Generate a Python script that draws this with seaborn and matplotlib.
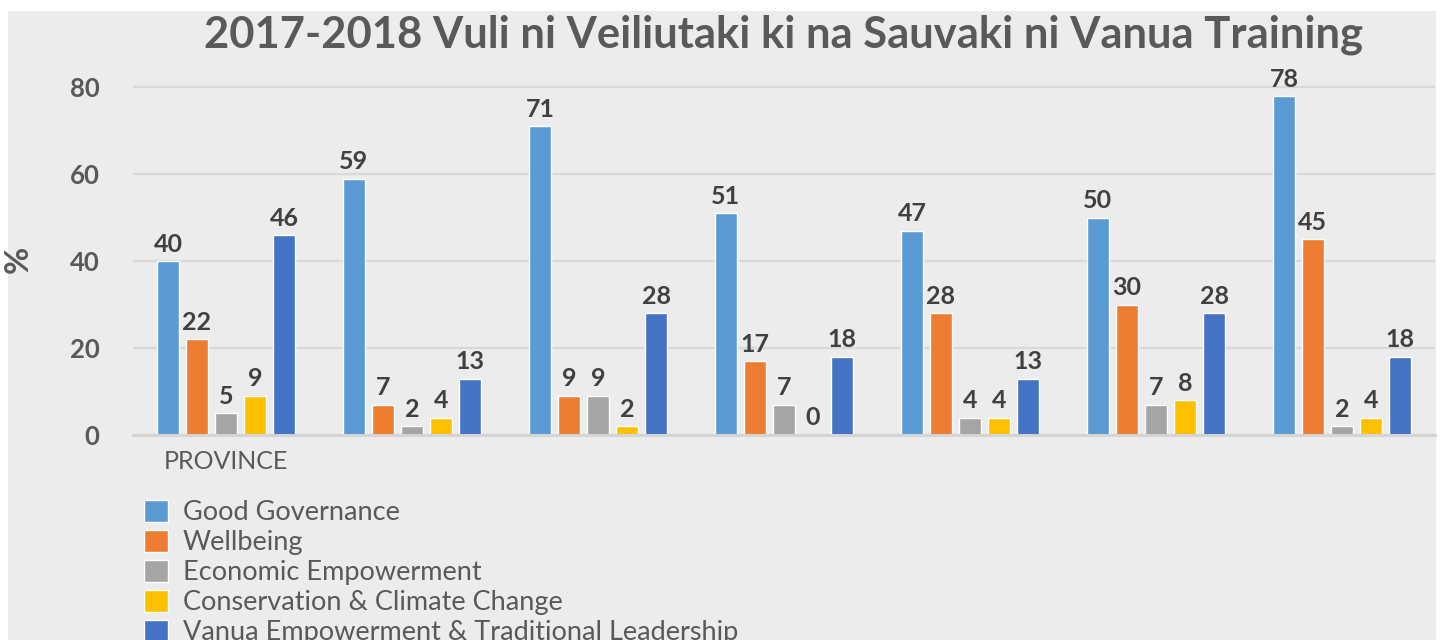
import matplotlib
matplotlib.use("Agg")
import matplotlib.pyplot as plt
import seaborn as sns
import pandas as pd
from matplotlib.patches import Rectangle

# data
groups = ["P1", "P2", "P3", "P4", "P5", "P6", "P7"]
tick_labels = ["PROVINCE", "", "", "", "", "", ""]
series = ["Good Governance", "Wellbeing", "Economic Empowerment",
          "Conservation & Climate Change", "Vanua Empowerment & Traditional Leadership"]
good_governance = [40, 59, 71, 51, 47, 50, 78]
wellbeing = [22, 7, 9, 17, 28, 30, 45]
economic = [5, 2, 9, 7, 4, 7, 2]
conservation = [9, 4, 2, 0, 4, 8, 4]
vanua = [46, 13, 28, 18, 13, 28, 18]
colors = ["#5B9BD5", "#ED7D31", "#A5A5A5", "#FFC000", "#4472C4"]

values = [good_governance, wellbeing, economic, conservation, vanua]
rows = []
for s, vals in zip(series, values):
    for g, v in zip(groups, vals):
        rows.append({"group": g, "series": s, "value": v})
df = pd.DataFrame(rows)

sns.set_theme(style="white")
plt.rcParams['font.family'] = ['Lato', 'DejaVu Sans']
txt = "#595959"

fig = plt.figure(figsize=(14.4, 6.4), dpi=100, facecolor="white")
fig.patches.append(Rectangle((8 / 1440, 0), 1428 / 1440, 629 / 640,
                             transform=fig.transFigure, facecolor="#ececec",
                             edgecolor="none", zorder=-5))
ax = fig.add_axes([133 / 1440, 1 - 435 / 640, 1302 / 1440, 365 / 640])
ax.set_facecolor("none")

sns.barplot(data=df, x="group", y="value", hue="series", palette=colors,
            saturation=1, width=0.78, gap=0.27, ax=ax, legend=True, errorbar=None)

for c in ax.containers:
    ax.bar_label(c, fmt="%d", padding=4, fontsize=18, fontweight="bold", color="#404040")

ax.set_ylim(0, 84)
ax.set_yticks([0, 20, 40, 60, 80])
ax.yaxis.grid(True, color="#d9d9d9", lw=1.6)
ax.set_axisbelow(True)
for sp in ["top", "right", "left"]:
    ax.spines[sp].set_visible(False)
ax.spines["bottom"].set_color("#d4d4d4")
ax.spines["bottom"].set_linewidth(2.2)
ax.tick_params(axis="both", length=0)
ax.tick_params(axis="y", pad=24, labelsize=18.5, labelcolor=txt)
ax.tick_params(axis="x", pad=11, labelsize=18, labelcolor=txt)
for t in ax.get_yticklabels():
    t.set_fontweight("bold")
ax.set_xticks(range(len(groups)))
ax.set_xticklabels(tick_labels)
ax.set_xlabel("")
ax.set_ylabel("%", fontsize=24, fontweight="bold", color=txt)
ax.yaxis.set_label_coords(-0.077, 0.48)

fig.text(784 / 1440, 1 - 35 / 640, "2017-2018 Vuli ni Veiliutaki ki na Sauvaki ni Vanua Training",
         ha="center", va="center", fontsize=31.3, fontweight="bold", color=txt)

handles, labels = ax.get_legend_handles_labels()
ax.get_legend().remove()
fig.legend(handles, labels, loc="upper left", bbox_to_anchor=(133 / 1440, 1 - 489 / 640),
           frameon=False, fontsize=19.5, labelcolor=txt, handlelength=0.88,
           handleheight=0.88, handletextpad=0.55, labelspacing=0.17, borderaxespad=0)

fig.savefig("out.png", dpi=100, facecolor="white")
